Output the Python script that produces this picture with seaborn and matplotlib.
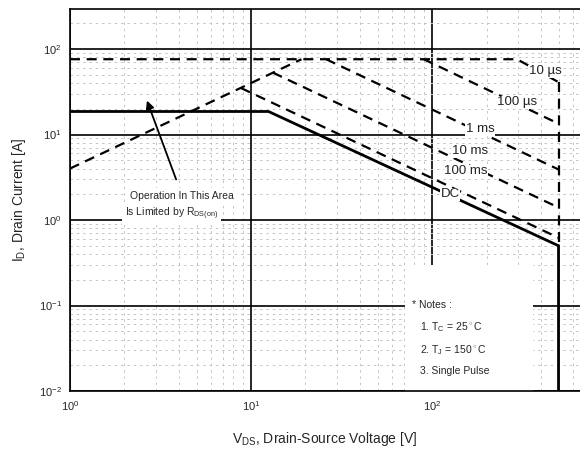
import matplotlib
matplotlib.use("Agg")
import matplotlib.pyplot as plt
import seaborn as sns
from matplotlib.patches import Rectangle
from matplotlib.ticker import LogLocator, NullFormatter

# safe operating area curves
rds_v = [1, 19]
rds_i = [4, 76]
us10_v = [1, 295, 500]
us10_i = [76, 76, 41]
us100_v = [90, 500]
us100_i = [76, 13.4]
ms1_v = [26, 500]
ms1_i = [76, 3.9]
ms10_v = [13.2, 500]
ms10_i = [53, 1.4]
ms100_v = [8.8, 500]
ms100_i = [35, 0.62]
dc_v = [1, 12.5, 500, 500]
dc_i = [18.6, 18.6, 0.5, 0.01]
vmax_v = [500, 500]
vmax_i = [41, 0.5]

curve_labels = ["10 \u00b5s", "100 \u00b5s", "1 ms", "10 ms", "100 ms", "DC"]
label_v = [421, 295, 184, 162, 154, 126]
label_i = [55, 23.9, 11.5, 6.4, 3.7, 2.0]

x_ticks = [1, 10, 100]
x_ticklabels = [r"$10^{0}$", r"$10^{1}$", r"$10^{2}$"]
y_ticks = [0.01, 0.1, 1, 10, 100]
y_ticklabels = [r"$10^{-2}$", r"$10^{-1}$", r"$10^{0}$", r"$10^{1}$", r"$10^{2}$"]

sns.set_style("white")
plt.rcParams["font.family"] = ["Liberation Sans", "DejaVu Sans"]
plt.rcParams["mathtext.fontset"] = "custom"
plt.rcParams["mathtext.rm"] = "Liberation Sans"

fig = plt.figure(figsize=(5.8, 4.58), dpi=100)
ax = fig.add_axes([70 / 580, 67 / 458, 510 / 580, 382 / 458])
ax.set_xscale("log")
ax.set_yscale("log")
ax.set_xlim(1, 657)
ax.set_ylim(0.01, 294)

# grid: solid black decades, grey dashed minors
ax.xaxis.set_minor_locator(LogLocator(base=10, subs=range(2, 10)))
ax.yaxis.set_minor_locator(LogLocator(base=10, subs=range(2, 10)))
ax.xaxis.set_minor_formatter(NullFormatter())
ax.yaxis.set_minor_formatter(NullFormatter())
ax.grid(which="major", color="black", linewidth=1.2, linestyle="-", zorder=1)
ax.grid(which="minor", color="#c4c4c4", linewidth=0.7, linestyle=(0, (2.5, 4)), zorder=1)
ax.set_axisbelow(True)

dash = (0, (4.5, 3))
kw = dict(ax=ax, color="black", sort=False, estimator=None, zorder=4)
sns.lineplot(x=rds_v, y=rds_i, linewidth=1.6, linestyle=dash, **kw)
sns.lineplot(x=us10_v, y=us10_i, linewidth=1.6, linestyle=dash, **kw)
sns.lineplot(x=us100_v, y=us100_i, linewidth=1.6, linestyle=dash, **kw)
sns.lineplot(x=ms1_v, y=ms1_i, linewidth=1.6, linestyle=dash, **kw)
sns.lineplot(x=ms10_v, y=ms10_i, linewidth=1.6, linestyle=dash, **kw)
sns.lineplot(x=ms100_v, y=ms100_i, linewidth=1.6, linestyle=dash, **kw)
sns.lineplot(x=vmax_v, y=vmax_i, linewidth=1.6, linestyle=dash, **kw)
sns.lineplot(x=dc_v, y=dc_i, linewidth=2.0, linestyle="-", **kw)

for txt, xv, yv in zip(curve_labels, label_v, label_i):
    ax.text(xv, yv, txt, fontsize=9.5, ha="center", va="center", color="#222222",
            zorder=5, bbox=dict(facecolor="white", edgecolor="none", pad=0.5))

# annotation about Rds(on)
ax.text(0.118, 0.51, "Operation In This Area", transform=ax.transAxes, fontsize=7.5,
        ha="left", va="center", zorder=5,
        bbox=dict(facecolor="white", edgecolor="none", pad=2))
ax.text(0.108, 0.463, r"Is Limited by R$_\mathregular{DS(on)}$", transform=ax.transAxes,
        fontsize=7.5, ha="left", va="center", zorder=5,
        bbox=dict(facecolor="white", edgecolor="none", pad=2))
ax.annotate("", xy=(0.149, 0.767), xytext=(0.21, 0.547), xycoords="axes fraction",
            arrowprops=dict(arrowstyle="-|>", color="black", lw=1.3, mutation_scale=12),
            zorder=6)

# notes box
ax.add_patch(Rectangle((0.657, 0.0), 0.25, 0.33, transform=ax.transAxes,
                       facecolor="white", edgecolor="none", zorder=3))
ax.text(0.671, 0.225, "* Notes :", transform=ax.transAxes, fontsize=7.5, va="center", zorder=5)
ax.text(0.686, 0.168, r"1. T$_\mathregular{C}$ = 25$^\circ$C", transform=ax.transAxes,
        fontsize=7.5, va="center", zorder=5)
ax.text(0.686, 0.107, r"2. T$_\mathregular{J}$ = 150$^\circ$C", transform=ax.transAxes,
        fontsize=7.5, va="center", zorder=5)
ax.text(0.686, 0.052, "3. Single Pulse", transform=ax.transAxes, fontsize=7.5,
        va="center", zorder=5)

ax.set_xticks(x_ticks)
ax.set_xticklabels(x_ticklabels)
ax.set_yticks(y_ticks)
ax.set_yticklabels(y_ticklabels)
ax.tick_params(which="both", direction="in", top=False, right=False, labelsize=8)
ax.tick_params(which="major", length=0, pad=6)
ax.tick_params(which="minor", length=4, width=1.0, color="black")

for side in ["left", "bottom", "top"]:
    ax.spines[side].set_color("black")
    ax.spines[side].set_linewidth(1.2)
    ax.spines[side].set_zorder(7)
ax.spines["right"].set_visible(False)

ax.set_xlabel(r"V$_\mathregular{DS}$, Drain-Source Voltage [V]", fontsize=10, labelpad=12)
ax.set_ylabel(r"I$_\mathregular{D}$, Drain Current [A]", fontsize=10, labelpad=8)

fig.savefig("out.png", dpi=100, facecolor="white")
